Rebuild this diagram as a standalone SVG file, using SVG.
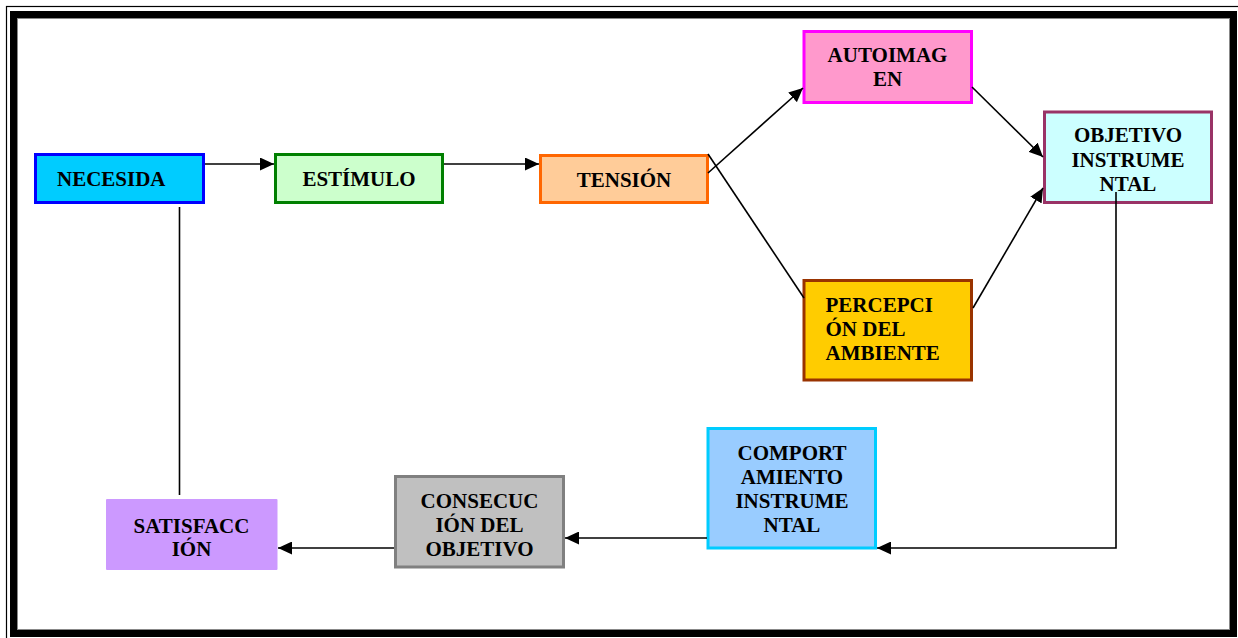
<svg xmlns="http://www.w3.org/2000/svg" width="1238" height="638" viewBox="0 0 1238 638">
<style>
.box{stroke-width:3}
text{font-family:"Liberation Serif","Times New Roman",serif;font-weight:bold;font-size:21px;fill:#000}
.c{text-anchor:middle}
.ln{stroke:#000;stroke-width:1.6;fill:none}
</style>
<defs>
<marker id="ah" markerWidth="14" markerHeight="13" refX="14" refY="6.5" orient="auto" markerUnits="userSpaceOnUse">
<path d="M0,0 L14,6.5 L0,13 Z" fill="#000"/>
</marker>
</defs>
<rect width="1238" height="638" fill="#fff"/>
<g id="frame">
<rect x="6.5" y="6.5" width="1240" height="640" fill="none" stroke="#000" stroke-width="1.2"/>
<rect x="13.5" y="14.5" width="1220" height="619" fill="none" stroke="#000" stroke-width="7"/>
<rect x="17.5" y="18.5" width="1212" height="611" fill="none" stroke="#888" stroke-width="1"/>
</g>
<g id="necesida">
<rect class="box" x="35.5" y="154.5" width="168" height="48" fill="#00CCFF" stroke="#0000FF"/>
<text x="57" y="186">NECESIDA</text>
</g>
<g id="estimulo">
<rect class="box" x="275.5" y="154.5" width="167" height="48" fill="#CCFFCC" stroke="#008000"/>
<text class="c" x="359" y="186">ESTÍMULO</text>
</g>
<g id="tension">
<rect class="box" x="540.5" y="155.5" width="167" height="47" fill="#FFCC99" stroke="#FF6600"/>
<text class="c" x="624" y="186.5">TENSIÓN</text>
</g>
<g id="autoimagen">
<rect class="box" x="804" y="31.5" width="167.5" height="71" fill="#FF99CC" stroke="#FF00FF"/>
<text class="c" x="887.5" y="62">AUTOIMAG</text>
<text class="c" x="887.5" y="85.5">EN</text>
</g>
<g id="objetivo-instrumental">
<rect class="box" x="1044.5" y="112" width="167" height="90.5" fill="#CCFFFF" stroke="#993366"/>
<text class="c" x="1128" y="142">OBJETIVO</text>
<text class="c" x="1128" y="166.5">INSTRUME</text>
<text class="c" x="1128" y="191">NTAL</text>
</g>
<g id="percepcion">
<rect class="box" x="804" y="280.5" width="167.5" height="99.5" fill="#FFCC00" stroke="#993300"/>
<text x="825.5" y="311.5">PERCEPCI</text>
<text x="825.5" y="335.5">ÓN DEL</text>
<text x="825.5" y="360">AMBIENTE</text>
</g>
<g id="comportamiento">
<rect class="box" x="708" y="428.5" width="167.5" height="119.5" fill="#99CCFF" stroke="#00CCFF"/>
<text class="c" x="792" y="460">COMPORT</text>
<text class="c" x="792" y="484">AMIENTO</text>
<text class="c" x="792" y="508">INSTRUME</text>
<text class="c" x="792" y="531.5">NTAL</text>
</g>
<g id="consecucion">
<rect class="box" x="395.5" y="476.5" width="168" height="90.5" fill="#C0C0C0" stroke="#808080"/>
<text class="c" x="479.5" y="507.5">CONSECUC</text>
<text class="c" x="479.5" y="532">IÓN DEL</text>
<text class="c" x="479.5" y="556">OBJETIVO</text>
</g>
<g id="satisfaccion">
<rect x="106" y="499" width="171.5" height="71" rx="1" fill="#CC99FF"/>
<text class="c" x="191.5" y="532.5">SATISFACC</text>
<text class="c" x="191.5" y="556">IÓN</text>
</g>
<g id="connectors">
<line class="ln" x1="205" y1="164" x2="274" y2="164" marker-end="url(#ah)"/>
<line class="ln" x1="444" y1="164" x2="539" y2="164" marker-end="url(#ah)"/>
<line class="ln" x1="708" y1="173" x2="803" y2="88" marker-end="url(#ah)"/>
<line class="ln" x1="708" y1="154" x2="804" y2="298"/>
<line class="ln" x1="972" y1="87" x2="1043" y2="157" marker-end="url(#ah)"/>
<line class="ln" x1="973" y1="308" x2="1043" y2="188" marker-end="url(#ah)"/>
<polyline class="ln" points="1116,192 1116,548 877,548" marker-end="url(#ah)"/>
<line class="ln" x1="707" y1="538" x2="565" y2="538" marker-end="url(#ah)"/>
<line class="ln" x1="394" y1="548" x2="278" y2="548" marker-end="url(#ah)"/>
<line class="ln" x1="179.5" y1="207" x2="179.5" y2="495"/>
</g>
</svg>
